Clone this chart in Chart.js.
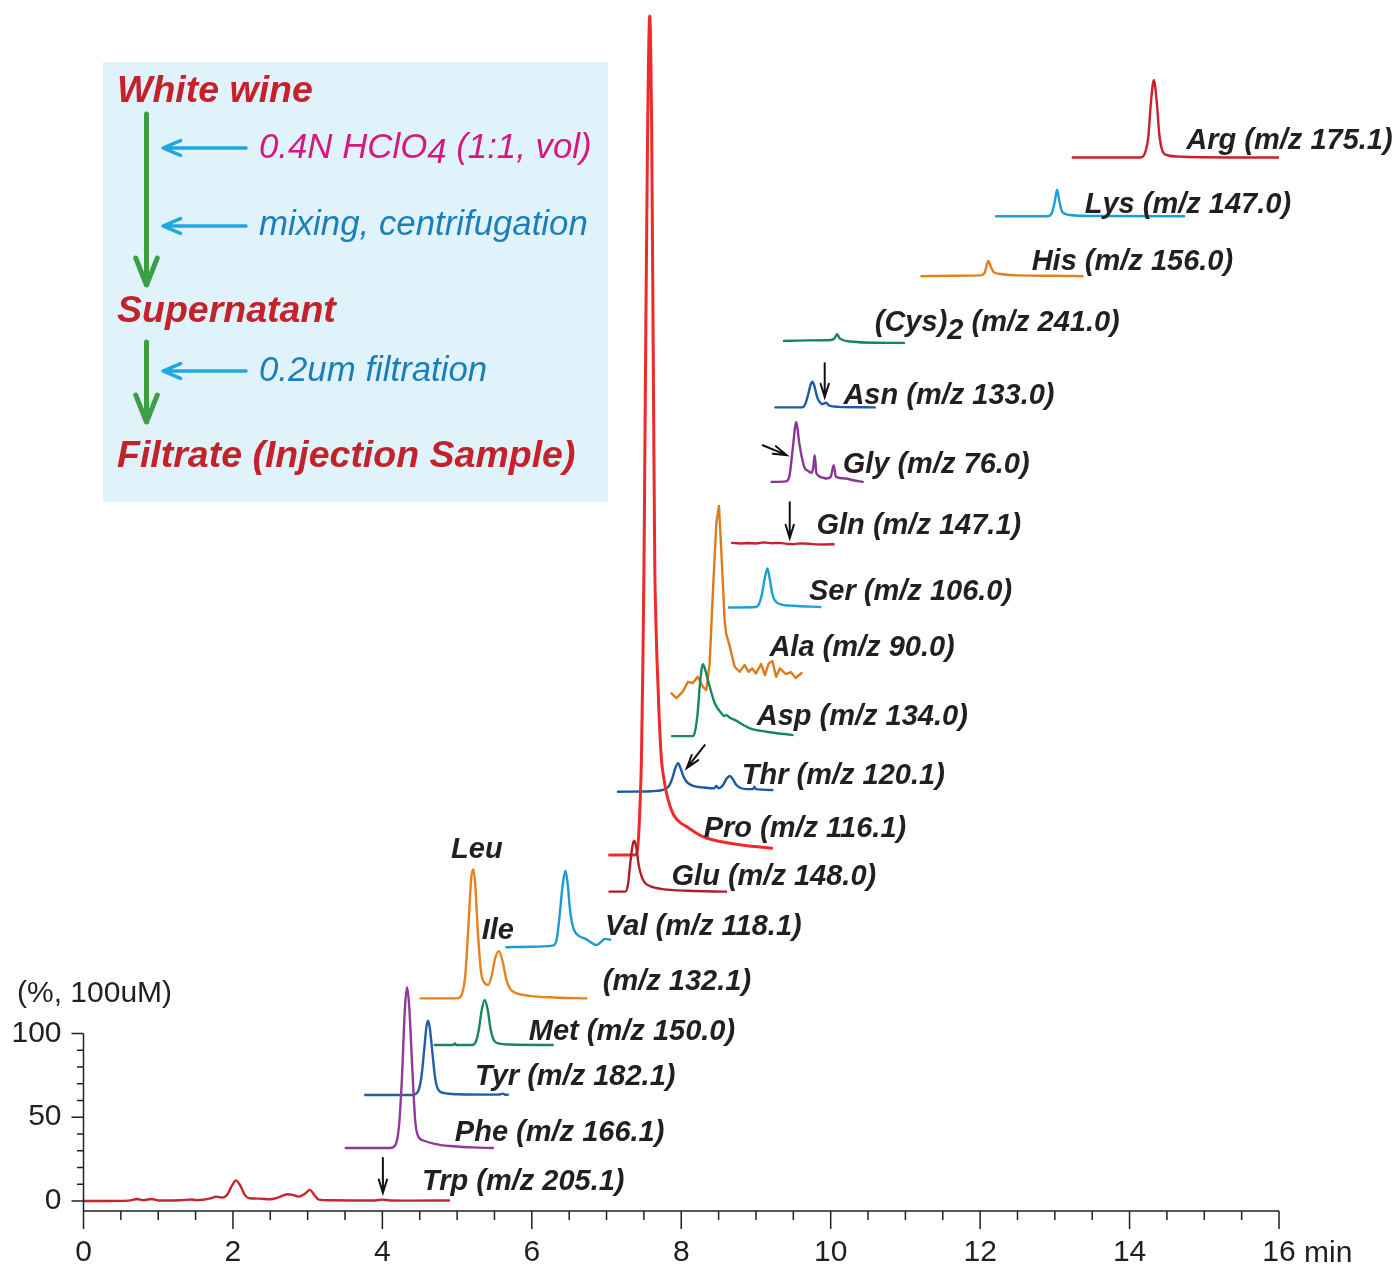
<!DOCTYPE html>
<html>
<head>
<meta charset="utf-8">
<title>White wine amino acids</title>
<script src="https://cdn.jsdelivr.net/npm/chart.js@4.4.1/dist/chart.umd.min.js"></script>
<style>
  html, body { margin: 0; padding: 0; background: #fff; }
  #chart { display: block; }
</style>
</head>
<body>
<canvas id="chart" width="1398" height="1269"></canvas>
<script>
const FONT = '"Liberation Sans", Arial, Helvetica, sans-serif';
const INK = '#231f20';

// Trazas del cromatograma: tiempo (min) y altura (%) sobre su línea base
const trpTime = [0, 0.3, 0.6, 0.72, 0.8, 0.91, 1.0, 1.3, 1.45, 1.5, 1.6, 1.7, 1.78, 1.86, 1.92, 1.98, 2.04, 2.1, 2.16, 2.22, 2.35, 2.5, 2.6, 2.73, 2.8, 2.88, 2.96, 3.03, 3.09, 3.15, 3.3, 3.6, 3.9, 4.0, 4.1, 4.4, 4.89];
const trpSignal = [0, 0, 0.2, 1.2, 0.5, 1.2, 0.3, 0.4, 0.9, 0.5, 0.7, 1.5, 2.6, 2.0, 3.5, 8.5, 12.3, 9.0, 3.5, 1.6, 1.4, 1.0, 2.0, 4.0, 3.6, 2.6, 4.2, 6.6, 3.5, 0.8, 0.4, 0.3, 0.3, 0.8, 0.3, 0.2, 0.3];

const pheTime = [3.51, 4.1, 4.17, 4.22, 4.26, 4.30, 4.33, 4.36, 4.40, 4.44, 4.48, 4.55, 4.7, 4.9, 5.2, 5.48];
const pheSignal = [0, 0, 1.5, 12, 40, 82, 96, 84, 48, 16, 7, 4.5, 2.5, 1.2, 0.4, 0];

const tyrTime = [3.77, 4.4, 4.47, 4.52, 4.56, 4.59, 4.61, 4.635, 4.67, 4.71, 4.75, 4.82, 5.0, 5.55, 5.62, 5.64, 5.68];
const tyrSignal = [0, 0, 1.5, 10, 27, 41, 44.4, 40, 25, 9, 3, 1.2, 0.4, 0.2, 0.8, 0.1, 0.2];

const metTime = [4.70, 4.95, 4.97, 4.99, 5.2, 5.25, 5.29, 5.33, 5.37, 5.41, 5.45, 5.49, 5.55, 5.7, 6.28];
const metSignal = [0, 0, 1, 0, 0, 2, 9, 21, 26.9, 21, 9, 3, 1, 0.3, 0];

const leuIleTime = [4.51, 5.0, 5.06, 5.11, 5.15, 5.19, 5.215, 5.24, 5.28, 5.32, 5.37, 5.415, 5.46, 5.51, 5.56, 5.61, 5.66, 5.71, 5.8, 5.97, 6.3, 6.73];
const leuIleSignal = [0, 0, 2, 14, 42, 72, 77, 70, 38, 16, 9, 8, 13, 24, 28.2, 22, 11, 5.6, 3, 1.5, 0.5, 0];

const valTime = [5.66, 6.0, 6.28, 6.33, 6.37, 6.41, 6.45, 6.48, 6.51, 6.54, 6.58, 6.64, 6.72, 6.79, 6.865, 6.92, 6.98, 7.05];
const valSignal = [0, 0.3, 1, 4, 18, 36, 45.7, 38, 23, 14, 9, 6.5, 5, 3, 1.3, 3, 5, 4.5];

const gluTime = [7.04, 7.25, 7.29, 7.32, 7.35, 7.37, 7.40, 7.43, 7.47, 7.52, 7.6, 7.75, 8.1, 8.6];
const gluSignal = [0, 0, 5, 18, 28, 30.4, 26, 16, 9, 5, 3, 1.5, 0.5, 0];

const proTime = [7.04, 7.38, 7.405, 7.43, 7.45, 7.467, 7.485, 7.502, 7.525, 7.55, 7.578, 7.604, 7.625, 7.645, 7.66, 7.676, 7.705, 7.735, 7.77, 7.802, 7.886, 7.97, 8.07, 8.29, 8.65, 9.21];
const proSignal = [0, 0, 1, 12, 32, 57, 110, 176, 310, 433, 501, 433, 300, 176, 140, 116, 82, 57, 45, 37, 25, 20, 17, 11, 7, 4];

const thrTime = [7.155, 7.6, 7.75, 7.83, 7.88, 7.92, 7.957, 7.99, 8.03, 8.07, 8.13, 8.2, 8.3, 8.44, 8.47, 8.50, 8.56, 8.61, 8.65, 8.69, 8.73, 8.78, 8.88, 8.96, 8.98, 9.0, 9.22];
const thrSignal = [0, 0.3, 1, 3, 8, 14, 17, 14, 9, 6, 4, 3, 2.5, 2, 3.4, 2, 4, 8, 9.4, 7.5, 4.5, 2.5, 1.5, 1.5, 3, 1.5, 1];

const aspTime = [7.877, 8.16, 8.19, 8.22, 8.25, 8.29, 8.325, 8.36, 8.45, 8.54, 8.58, 8.605, 8.65, 8.72, 8.92, 9.14, 9.49];
const aspSignal = [0, 0, 4, 14, 31, 43, 39, 33, 19.5, 13.5, 12, 12.5, 11, 9.5, 4.6, 2.6, 0.6];

const alaTime = [7.87, 7.935, 8.02, 8.09, 8.155, 8.22, 8.29, 8.335, 8.38, 8.425, 8.47, 8.505, 8.54, 8.58, 8.6, 8.65, 8.715, 8.78, 8.85, 8.9, 8.95, 9.0, 9.07, 9.12, 9.17, 9.22, 9.27, 9.32, 9.40, 9.47, 9.53, 9.61];
const alaSignal = [5.1, 2.3, 6.1, 12, 11.3, 15, 9, 7.1, 23, 66.8, 107, 117, 86.7, 49, 41, 33, 21, 18, 22, 18, 20, 17, 22.6, 16, 23, 24.4, 15, 20, 16.6, 17.8, 14.3, 17.3];

const serTime = [8.64, 9.0, 9.04, 9.08, 9.12, 9.153, 9.185, 9.22, 9.25, 9.32, 9.5, 9.86];
const serSignal = [0, 0.3, 2, 8, 18, 23.3, 17, 8, 4.4, 2, 1, 0.3];

const glnTime = [8.68, 8.8, 8.9, 9.0, 9.1, 9.2, 9.3, 9.4, 9.5, 9.6, 9.7, 9.8, 9.9, 10.04];
const glnSignal = [0.5, 0.1, 0.4, 0.1, 0.8, 0.3, 0.5, 0, -0.3, 0.2, 0, -0.4, -0.5, -0.3];

const glyTime = [9.21, 9.40, 9.45, 9.49, 9.54, 9.58, 9.645, 9.70, 9.74, 9.765, 9.786, 9.81, 9.9, 9.94, 10.0, 10.04, 10.07, 10.2, 10.3, 10.43];
const glySignal = [0, 0.3, 4, 19, 35.8, 23, 9, 6.5, 5.5, 8, 16, 5, 2.5, 2, 3, 10, 3, 2, 1, 0];

const asnTime = [9.26, 9.62, 9.66, 9.70, 9.735, 9.755, 9.78, 9.82, 9.85, 9.89, 9.94, 9.98, 10.1, 10.59];
const asnSignal = [0, 0, 2, 8, 14, 15.3, 13, 6, 3.3, 2, 2.8, 1, 0.3, 0];

const cysTime = [9.375, 9.7, 10.0, 10.05, 10.085, 10.12, 10.3, 10.6, 10.98];
const cysSignal = [0.5, 0.8, 1, 2, 4.5, 2, 0, -0.6, -0.7];

const hisTime = [11.215, 11.6, 12.0, 12.06, 12.09, 12.11, 12.14, 12.18, 12.25, 12.5, 13.0, 13.37];
const hisSignal = [0, 0.3, 0.5, 2, 7, 9.1, 6, 2.5, 1.5, 0.5, 0.3, 0];

const lysTime = [12.215, 12.9, 12.96, 13.0, 13.03, 13.06, 13.1, 13.2, 13.5, 14.73];
const lysSignal = [0, 0, 2, 9, 15.9, 9, 2.5, 0.8, 0.2, 0];

const argTime = [13.24, 14.15, 14.2, 14.25, 14.29, 14.325, 14.36, 14.40, 14.44, 14.5, 14.7, 16.0];
const argSignal = [0, 0, 2, 12, 35, 46.1, 35, 13, 4, 1.5, 0.5, 0];

// Línea base de cada traza (%), en el mismo orden
const traceNames = ['Trp', 'Phe', 'Tyr', 'Met', 'Leu/Ile', 'Val', 'Glu', 'Pro', 'Thr', 'Asp', 'Ala', 'Ser', 'Gln', 'Gly', 'Asn', '(Cys)2', 'His', 'Lys', 'Arg'];
const baselines = [0, 31.6, 63.3, 93.1, 121, 151.5, 184.7, 206.6, 244.4, 277.6, 298, 354.4, 392.5, 429.4, 473.9, 513.1, 552.2, 588, 623.1];
const traceTimes = [trpTime, pheTime, tyrTime, metTime, leuIleTime, valTime, gluTime, proTime, thrTime, aspTime, alaTime, serTime, glnTime, glyTime, asnTime, cysTime, hisTime, lysTime, argTime];
const traceSignals = [trpSignal, pheSignal, tyrSignal, metSignal, leuIleSignal, valSignal, gluSignal, proSignal, thrSignal, aspSignal, alaSignal, serSignal, glnSignal, glySignal, asnSignal, cysSignal, hisSignal, lysSignal, argSignal];

const traceColors = ['#c4262e', '#8e3a96', '#1f5fa5', '#15875b', '#e5821e', '#1a9bd1', '#b01e2d', '#ee2a2a', '#1a5aa3', '#158a5e', '#df7a1c', '#1ba0d5', '#c8232c', '#8b3596', '#1c5ca5', '#14885c', '#e2801f', '#1b9fd3', '#c9202a'];

const xTickValues = [0, 2, 4, 6, 8, 10, 12, 14, 16];
const yTickValues = [0, 50, 100];

// Etiquetas de cada traza ("_" = subíndice) y su posición en unidades de datos
const peakLabels = ['Arg (m/z 175.1)', 'Lys (m/z 147.0)', 'His (m/z 156.0)', '(Cys)_2 (m/z 241.0)', 'Asn (m/z 133.0)', 'Gly (m/z 76.0)', 'Gln (m/z 147.1)', 'Ser (m/z 106.0)', 'Ala (m/z 90.0)', 'Asp (m/z 134.0)', 'Thr (m/z 120.1)', 'Pro (m/z 116.1)', 'Glu (m/z 148.0)', 'Val (m/z 118.1)', 'Leu', 'Ile', '(m/z 132.1)', 'Met (m/z 150.0)', 'Tyr (m/z 182.1)', 'Phe (m/z 166.1)', 'Trp (m/z 205.1)'];
const peakLabelAt = [[14.76, 632.8], [13.40, 594.6], [12.69, 560.6], [10.59, 524.2], [10.17, 480.6], [10.16, 439.4], [9.81, 403.0], [9.71, 363.6], [9.18, 330.1], [9.01, 288.9], [8.81, 253.7], [8.30, 222.1], [7.87, 193.4], [6.98, 163.6], [4.92, 209.5], [5.33, 161.2], [6.95, 130.7], [5.96, 100.9], [5.24, 74.0], [4.97, 40.6], [4.53, 11.3]];

// Flechas negras (cola -> punta), unidades de datos
const markerArrows = [[4.007, 25.7, 4.007, 4.8], [8.314, 272.2, 8.074, 258.5], [9.452, 417.3, 9.452, 395.8], [9.09, 451.3, 9.411, 445.4], [9.92, 500.3, 9.92, 480]];

// Texto con subíndices marcados por "_"
function drawRich(ctx, text, x, y, drop) {
    const parts = text.split('_');
    let cx = x;
    parts.forEach((part, i) => {
        if (i === 0) {
            ctx.fillText(part, cx, y);
            cx += ctx.measureText(part).width;
        } else {
            const sub = part.charAt(0);
            const rest = part.slice(1);
            ctx.fillText(sub, cx, y + drop);
            cx += ctx.measureText(sub).width;
            ctx.fillText(rest, cx, y);
            cx += ctx.measureText(rest).width;
        }
    });
}

function arrowLine(ctx, x1, y1, x2, y2, head, spread) {
    const ang = Math.atan2(y2 - y1, x2 - x1);
    ctx.beginPath();
    ctx.moveTo(x1, y1);
    ctx.lineTo(x2, y2);
    ctx.moveTo(x2 - head * Math.cos(ang - spread), y2 - head * Math.sin(ang - spread));
    ctx.lineTo(x2, y2);
    ctx.lineTo(x2 - head * Math.cos(ang + spread), y2 - head * Math.sin(ang + spread));
    ctx.stroke();
}

// Recuadro con el procedimiento de preparación
function drawFlowBox(ctx) {
    ctx.save();
    ctx.fillStyle = '#e0f2fa';
    ctx.fillRect(103, 62, 505, 440);

    ctx.lineCap = 'round';
    ctx.lineJoin = 'round';
    ctx.strokeStyle = '#3c9f45';
    ctx.lineWidth = 5;
    arrowLine(ctx, 146.5, 114, 146.5, 285, 29, 0.38);
    arrowLine(ctx, 146.5, 342, 146.5, 422, 29, 0.38);

    ctx.strokeStyle = '#1ea8e2';
    ctx.lineWidth = 3.5;
    [148, 226, 371].forEach(yy => arrowLine(ctx, 246, yy, 163, yy, 19, 0.4));

    ctx.textBaseline = 'alphabetic';
    ctx.fillStyle = '#c3222b';
    ctx.font = 'italic bold 37.5px ' + FONT;
    ctx.fillText('White wine', 117, 102);
    ctx.fillText('Supernatant', 117, 322);
    ctx.fillText('Filtrate (Injection Sample)', 117, 467);

    ctx.font = 'italic 34.8px ' + FONT;
    ctx.fillStyle = '#d6177f';
    drawRich(ctx, '0.4N HClO_4 (1:1, vol)', 259, 158, 5);
    ctx.fillStyle = '#1a7fba';
    ctx.fillText('mixing, centrifugation', 259, 235);
    ctx.fillText('0.2um filtration', 259, 381);
    ctx.restore();
}

function drawAxes(chart) {
    const ctx = chart.ctx;
    const xs = chart.scales.x;
    const ys = chart.scales.y;
    const bottom = chart.chartArea.bottom;
    const left = xs.getPixelForValue(0);
    ctx.save();
    ctx.strokeStyle = INK;
    ctx.lineWidth = 1.5;
    ctx.beginPath();
    ctx.moveTo(left, bottom);
    ctx.lineTo(xs.getPixelForValue(16), bottom);
    for (let t = 0; t <= 16; t += 0.5) {
        const px = xs.getPixelForValue(t);
        ctx.moveTo(px, bottom);
        ctx.lineTo(px, bottom + (t % 2 === 0 ? 18 : 9));
    }
    ctx.moveTo(left, bottom);
    ctx.lineTo(left, ys.getPixelForValue(100));
    for (let v = 0; v <= 100; v += 10) {
        const py = ys.getPixelForValue(v);
        ctx.moveTo(left - (v % 50 === 0 ? 12 : 6.5), py);
        ctx.lineTo(left, py);
    }
    ctx.stroke();

    ctx.fillStyle = INK;
    ctx.font = '30px ' + FONT;
    ctx.textBaseline = 'middle';
    ctx.fillText('min', xs.getPixelForValue(16) + 25, 1254);
    ctx.fillText('(%, 100uM)', 17, 994);
    ctx.restore();
}

function drawLabels(chart) {
    const ctx = chart.ctx;
    const xs = chart.scales.x;
    const ys = chart.scales.y;
    ctx.save();
    ctx.fillStyle = INK;
    ctx.font = 'italic bold 29px ' + FONT;
    ctx.textBaseline = 'middle';
    peakLabels.forEach((txt, i) => {
        drawRich(ctx, txt, xs.getPixelForValue(peakLabelAt[i][0]), ys.getPixelForValue(peakLabelAt[i][1]), 8);
    });

    ctx.strokeStyle = '#111';
    ctx.lineWidth = 2;
    ctx.lineCap = 'round';
    markerArrows.forEach(a => {
        arrowLine(ctx, xs.getPixelForValue(a[0]), ys.getPixelForValue(a[1]), xs.getPixelForValue(a[2]), ys.getPixelForValue(a[3]), 14, 0.3);
    });
    ctx.restore();
}

const decorPlugin = {
    id: 'decor',
    beforeDatasetsDraw(chart) {
        drawFlowBox(chart.ctx);
    },
    afterDraw(chart) {
        drawAxes(chart);
        drawLabels(chart);
    }
};

const datasets = traceNames.map((name, i) => ({
    label: name,
    data: traceTimes[i].map((t, k) => ({ x: t, y: baselines[i] + traceSignals[i][k] })),
    borderColor: traceColors[i],
    borderWidth: name === 'Pro' ? 3 : 2.4,
    borderJoinStyle: 'round',
    borderCapStyle: 'round',
    pointRadius: 0,
    fill: false,
    cubicInterpolationMode: (name === 'Ala' || name === 'Gln') ? 'default' : 'monotone',
    tension: 0
}));

const chart = new Chart(document.getElementById('chart'), {
    type: 'line',
    data: { datasets: datasets },
    options: {
        responsive: false,
        animation: false,
        layout: { padding: { top: 12, right: 119, bottom: 0, left: 0 } },
        plugins: {
            legend: { display: false },
            tooltip: { enabled: false }
        },
        scales: {
            x: {
                type: 'linear',
                min: 0,
                max: 16,
                afterBuildTicks: s => { s.ticks = xTickValues.map(v => ({ value: v })); },
                afterFit: s => { s.height = 58; s.paddingLeft = 0; s.paddingRight = 0; },
                grid: { display: false, drawTicks: false },
                border: { display: false },
                ticks: {
                    autoSkip: false,
                    maxRotation: 0,
                    padding: 24,
                    color: INK,
                    font: { family: FONT, size: 30 },
                    callback: v => String(v)
                }
            },
            y: {
                type: 'linear',
                min: -6,
                max: 710,
                afterBuildTicks: s => { s.ticks = yTickValues.map(v => ({ value: v })); },
                afterFit: s => { s.width = 83.5; s.paddingTop = 0; s.paddingBottom = 0; },
                grid: { display: false, drawTicks: false },
                border: { display: false },
                ticks: {
                    padding: 22,
                    color: INK,
                    font: { family: FONT, size: 30 },
                    callback: v => String(v)
                }
            }
        }
    },
    plugins: [decorPlugin]
});
</script>
</body>
</html>
